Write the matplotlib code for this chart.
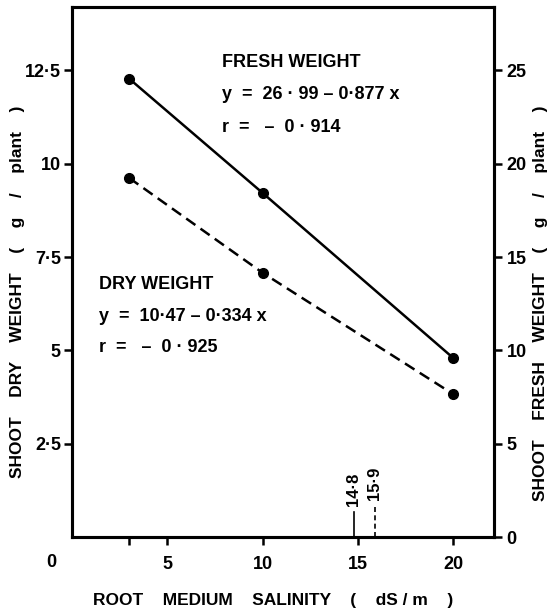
import matplotlib
matplotlib.use("Agg")
import matplotlib.pyplot as plt

plt.rcParams['font.family'] = ['Liberation Sans', 'DejaVu Sans']
plt.rcParams['font.weight'] = 'bold'

# data
salinity = [3, 10, 20]
fresh_weight = [24.56, 18.44, 9.60]   # g/plant (right axis)
dry_weight = [9.62, 7.08, 3.83]       # g/plant (left axis)
threshold_fresh = 14.8
threshold_dry = 15.9

x_ticks = [3, 5, 10, 15, 20]
x_ticklabels = ['', '5', '10', '15', '20']
left_ticks = [2.5, 5, 7.5, 10, 12.5]
left_ticklabels = ['2·5', '5', '7·5', '10', '12·5']
right_ticks = [0, 5, 10, 15, 20, 25]
right_ticklabels = ['0', '5', '10', '15', '20', '25']

fig = plt.figure(figsize=(5.51, 6.11), dpi=100)
ax = fig.add_axes([72/551, 1-537/611, 422/551, 530/611])
ax2 = ax.twinx()

ax.set_xlim(0, 22.15)
ax.set_ylim(0, 14.2)
ax2.set_ylim(0, 28.4)

for a in (ax, ax2):
    for s in a.spines.values():
        s.set_linewidth(2.2)

ax.plot(salinity, dry_weight, color='black', lw=1.8, ls=(0, (4.5, 2.5)),
        marker='o', ms=7, zorder=3)
ax2.plot(salinity, fresh_weight, color='black', lw=1.8, ls='-',
         marker='o', ms=7, zorder=3)

# threshold markers
ax.plot([threshold_fresh, threshold_fresh], [0, 0.67], color='black', lw=1.2)
ax.plot([threshold_dry, threshold_dry], [0, 0.86], color='black', lw=1.2, ls=(0, (3, 2)))
ax.text(threshold_fresh, 0.82, '14·8', rotation=90, ha='center', va='bottom',
        fontsize=12, fontweight='bold')
ax.text(threshold_dry, 1.0, '15·9', rotation=90, ha='center', va='bottom',
        fontsize=12, fontweight='bold')

ax.set_xticks(x_ticks)
ax.set_xticklabels(x_ticklabels)
ax.set_yticks(left_ticks)
ax.set_yticklabels(left_ticklabels)
ax2.set_yticks(right_ticks)
ax2.set_yticklabels(right_ticklabels)

ax.tick_params(axis='x', direction='out', length=6, width=1.8, pad=8, labelsize=13)
ax.tick_params(axis='y', direction='out', length=6, width=1.8, pad=2, labelsize=13)
ax2.tick_params(axis='y', direction='out', length=6, width=1.8, pad=3, labelsize=13)

# origin label for x axis
ax.text(-0.05, -0.048, '0', transform=ax.transAxes, ha='center', va='center',
        fontsize=13, fontweight='bold')

# annotations
fs = 13
ax.text(7.87, 12.71, 'FRESH WEIGHT', fontsize=fs, fontweight='bold', va='center')
ax.text(7.87, 11.85, 'y  =  26 · 99 – 0·877 x', fontsize=fs, fontweight='bold', va='center')
ax.text(7.87, 10.97, 'r  =   –  0 · 914', fontsize=fs, fontweight='bold', va='center')
ax.text(1.4, 6.76, 'DRY WEIGHT', fontsize=fs, fontweight='bold', va='center')
ax.text(1.4, 5.90, 'y  =  10·47 – 0·334 x', fontsize=fs, fontweight='bold', va='center')
ax.text(1.4, 5.07, 'r  =   –  0 · 925', fontsize=fs, fontweight='bold', va='center')

fig.text(18/551, 1-292/611, 'SHOOT    DRY    WEIGHT    (    g    /    plant    )', rotation=90,
         ha='center', va='center', fontsize=12.5, fontweight='bold')
fig.text(540/551, 1-303/611, 'SHOOT    FRESH    WEIGHT    (    g    /    plant    )', rotation=90,
         ha='center', va='center', fontsize=12.5, fontweight='bold')
fig.text(273/551, 1-600/611, 'ROOT    MEDIUM    SALINITY    (    dS / m    )',
         ha='center', va='center', fontsize=12.5, fontweight='bold')

fig.savefig('out.png', dpi=100)
